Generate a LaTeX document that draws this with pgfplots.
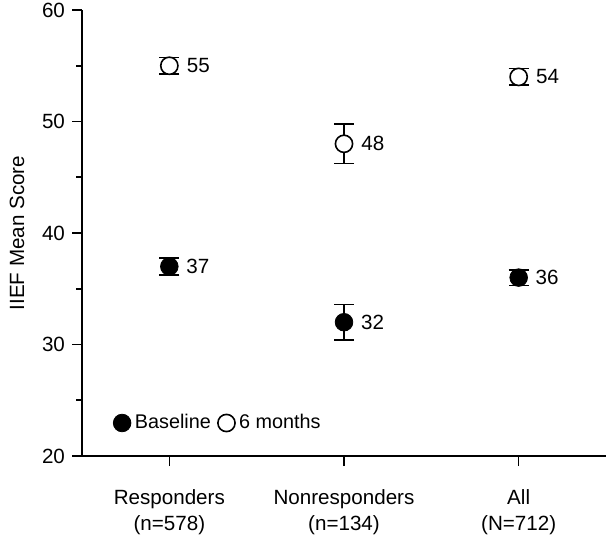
\documentclass[border=0pt]{standalone}
\usepackage{fontspec}
\setmainfont{Liberation Sans}
\usepackage{pgfplots}
\pgfplotsset{compat=1.18}
\usepackage{pgfplotstable}

\pgfplotstableread{
x y e lab
0 37 0.75 37
1 32 1.6 32
2 36 0.7 36
}\tbase
\pgfplotstableread{
x y e lab
0 55 0.75 55
1 48 1.75 48
2 54 0.75 54
}\tsix

\begin{document}
\begin{tikzpicture}
\begin{axis}[name=ax, scale only axis, width=262pt, height=223pt,
  xmin=-0.5, xmax=2.5, ymin=20, ymax=60,
  axis x line*=bottom, axis y line*=left,
  xtick={0,1,2},
  xticklabels={{Responders\\(n=578)},{Nonresponders\\(n=134)},{All\\(N=712)}},
  xticklabel style={align=center, font=\fontsize{10.3}{13}\selectfont, yshift=-8pt},
  ytick={20,30,...,60}, minor y tick num=1,
  tick align=outside, major tick length=5pt, minor tick length=3pt,
  tick style={black, line width=0.8pt},
  axis line style={line width=0.8pt},
  ticklabel style={font=\fontsize{10.3}{13}\selectfont},
  /pgf/number format/assume math mode=true,
  ylabel={IIEF Mean Score},
  ylabel style={font=\fontsize{10.3}{12}\selectfont, yshift=2pt},
  clip=false,
  legend style={draw=none, fill=none, at={(0.059,0.074)}, anchor=west,
    legend columns=2, font=\fontsize{9.9}{12}\selectfont, inner sep=0pt,
    /tikz/every even column/.append style={column sep=1.5pt}},
  legend image code/.code={\draw[#1] plot coordinates {(0.16cm,0cm)};},
  error bars/y dir=both, error bars/y explicit,
  error bars/error mark=|,
  error bars/error mark options={black, mark size=5pt, line width=0.8pt},
  error bars/error bar style={black, line width=0.8pt},
  every node near coord/.append style={anchor=west, xshift=5pt, font=\fontsize{10.3}{12}\selectfont, text=black},
]
\addplot[only marks, mark=*, mark size=4.4pt, mark options={fill=black, draw=black},
  nodes near coords, point meta=explicit symbolic]
  table[x=x, y=y, y error=e, meta=lab] {\tbase};
\addlegendentry{Baseline}
\addplot[only marks, mark=*, mark size=4.3pt, mark options={fill=white, draw=black, line width=0.8pt},
  nodes near coords, point meta=explicit symbolic]
  table[x=x, y=y, y error=e, meta=lab] {\tsix};
\addlegendentry{6 months}
\end{axis}
\pgfresetboundingbox
\path[use as bounding box] ([xshift=-41pt,yshift=-50.5pt]ax.south west) rectangle ([yshift=5pt]ax.north east);
\end{tikzpicture}
\end{document}
